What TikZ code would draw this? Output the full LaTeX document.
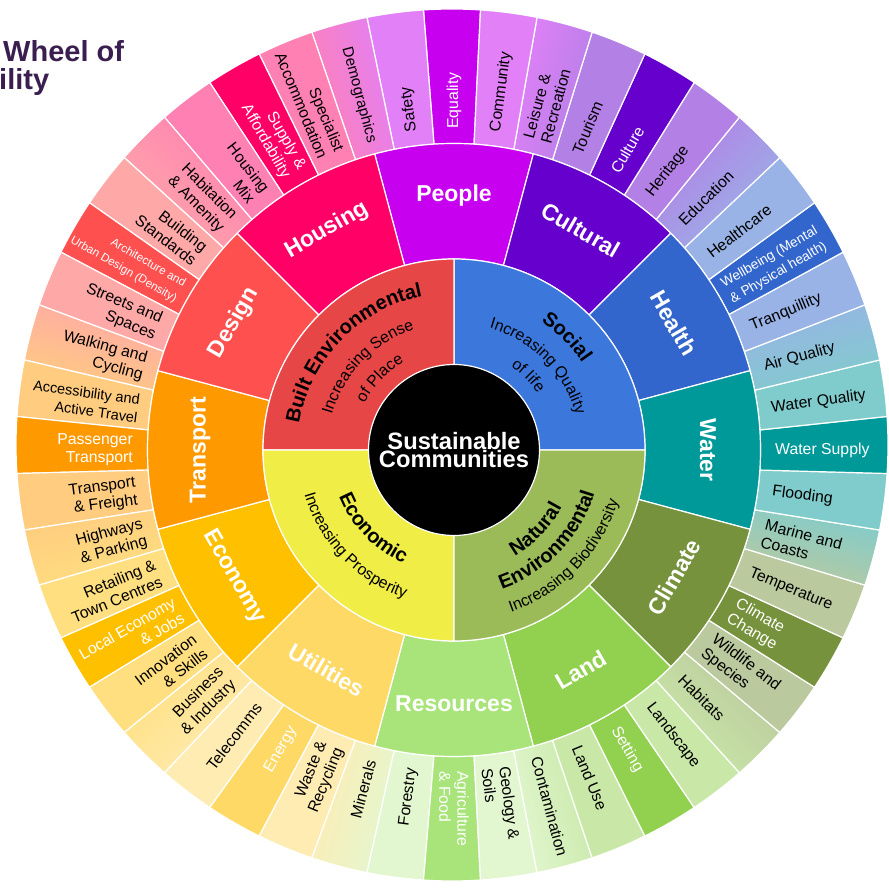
\documentclass[tikz,border=0pt]{standalone}
\usepackage{fontspec}
\setmainfont{Liberation Sans}
\usetikzlibrary{calc,decorations.text}

% inner quadrants
\definecolor{builtenv}{HTML}{E64646}
\definecolor{social}{HTML}{3C78DC}
\definecolor{economic}{HTML}{F0EE46}
\definecolor{natural}{HTML}{9BBB59}
% themes: dark (theme ring) and light (topic ring)
\definecolor{housingD}{HTML}{FF0066}   \definecolor{housingL}{HTML}{FF80B3}
\definecolor{peopleD}{HTML}{C800F0}    \definecolor{peopleL}{HTML}{E280F8}
\definecolor{culturalD}{HTML}{6600CC}  \definecolor{culturalL}{HTML}{B380E6}
\definecolor{healthD}{HTML}{3366CC}    \definecolor{healthL}{HTML}{99B3E6}
\definecolor{waterD}{HTML}{009999}     \definecolor{waterL}{HTML}{80CCCC}
\definecolor{climateD}{HTML}{76923C}   \definecolor{climateL}{HTML}{BBC99E}
\definecolor{landD}{HTML}{92D050}      \definecolor{landL}{HTML}{C9E8A8}
\definecolor{resourcesD}{HTML}{A9E47A} \definecolor{resourcesL}{HTML}{E2F7D0}
\definecolor{utilitiesD}{HTML}{FFD966} \definecolor{utilitiesL}{HTML}{FFECB3}
\definecolor{economyD}{HTML}{FFC000}   \definecolor{economyL}{HTML}{FFDF80}
\definecolor{transportD}{HTML}{FF9900} \definecolor{transportL}{HTML}{FFCC80}
\definecolor{designD}{HTML}{FF5050}    \definecolor{designL}{HTML}{FFA8A8}
\definecolor{titlepurple}{HTML}{3B1E50}

\tikzset{
  seg/.style={draw=white, line width=1.2pt, line join=round},
  catlabel/.style={text=white, font=\fontsize{23}{26}\selectfont\bfseries, inner sep=0pt},
  outlbl/.style={inner sep=0pt, anchor=west, align=left},
  inlbl/.style={inner sep=0pt, anchor=east, align=right},
  titletext/.style={anchor=base west, inner sep=0pt, text=titlepurple,
    font=\fontsize{29}{30}\selectfont\bfseries},
}

% topics: index / colour on the anticlockwise side / colour on the clockwise side /
%         label / label colour / font size / label start radius
\def\topics{
  0/peopleD/peopleD/Equality/white/15.8/321,
  1/peopleL/peopleL/Safety/black/15.8/321,
  2/housingL/peopleL/Demographics/black/15.2/318,
  3/housingL/housingL/{Specialist\\Accommodation}/black/15.8/320,
  4/housingD/housingD/{Supply \&\\Affordability}/white/15.8/320,
  5/housingL/housingL/{Housing\\Mix}/black/15.8/320,
  6/designL/housingL/{Habitation\\\& Amenity}/black/15.8/320,
  7/designL/designL/{Building\\Standards}/black/15.8/320,
  8/designD/designD/{Architecture and\\Urban Design (Density)}/white/11.6/316,
  9/designL/designL/{Streets and\\Spaces}/black/15.8/320,
  10/transportL/designL/{Walking and\\Cycling}/black/15.8/320,
  11/transportL/transportL/{Accessibility and\\Active Travel}/black/14.5/318,
  12/transportD/transportD/{Passenger\\Transport}/white/15.8/321,
  13/transportL/transportL/{Transport\\\& Freight}/black/15.8/320,
  14/economyL/transportL/{Highways\\\& Parking}/black/15.8/320,
  15/economyL/economyL/{Retailing \&\\Town Centres}/black/15.8/320,
  16/economyD/economyD/{Local Economy\\\& Jobs}/white/15.8/318,
  17/economyL/economyL/{Innovation\\\& Skills}/black/15.8/320,
  18/utilitiesL/economyL/{Business\\\& Industry}/black/15.8/320,
  19/utilitiesL/utilitiesL/Telecomms/black/15.8/321,
  20/utilitiesD/utilitiesD/Energy/white/15.8/321,
  21/utilitiesL/utilitiesL/{Waste \&\\Recycling}/black/15.8/320,
  22/resourcesL/utilitiesL/Minerals/black/15.8/321,
  23/resourcesL/resourcesL/Forestry/black/15.8/321,
  24/resourcesD/resourcesD/{Agriculture\\\& Food}/white/15.8/321,
  25/resourcesL/resourcesL/{Geology \&\\Soils}/black/15.8/320,
  26/landL/resourcesL/Contamination/black/15.8/318,
  27/landL/landL/Land Use/black/15.8/321,
  28/landD/landD/Setting/white/15.8/321,
  29/landL/landL/Landscape/black/15.8/321,
  30/climateL/landL/Habitats/black/15.8/321,
  31/climateL/climateL/{Wildlife and\\Species}/black/15.8/320,
  32/climateD/climateD/{Climate\\Change}/white/15.8/321,
  33/climateL/climateL/Temperature/black/15.8/320,
  34/waterL/climateL/{Marine and\\Coasts}/black/15.8/320,
  35/waterL/waterL/Flooding/black/15.8/321,
  36/waterD/waterD/Water Supply/white/15.8/321,
  37/waterL/waterL/Water Quality/black/15.8/320,
  38/healthL/waterL/Air Quality/black/15.8/321,
  39/healthL/healthL/Tranquillity/black/15.8/321,
  40/healthD/healthD/{Wellbeing (Mental\\\& Physical health)}/white/13.6/315,
  41/healthL/healthL/Healthcare/black/15.8/321,
  42/culturalL/healthL/Education/black/15.8/321,
  43/culturalL/culturalL/Heritage/black/15.8/321,
  44/culturalD/culturalD/Culture/white/15.8/321,
  45/culturalL/culturalL/Tourism/black/15.8/321,
  46/peopleL/culturalL/{Leisure \&\\Recreation}/black/15.8/320,
  47/peopleL/peopleL/Community/black/15.8/321%
}

\begin{document}
\begin{tikzpicture}[x=1pt,y=1pt]
\useasboundingbox (0,0) rectangle (888,888);
\clip (0,0) rectangle (888,888);
\coordinate (C) at (454,438);   % centre of the wheel
\coordinate (C2) at (452,443);  % centre of the outer rim

% ---------- topic ring (48 topics, 7.5 degrees each) ----------
\foreach \k/\ca/\cb/\txt/\tc/\fsz/\rs in \topics {
  \pgfmathsetmacro{\ph}{90+7.5*\k}
  \pgfmathsetmacro{\pa}{\ph-3.75}
  \pgfmathsetmacro{\pb}{\ph+3.75}
  \draw[seg, top color=\ca, bottom color=\cb, shading angle=\ph]
    ($(C)+(\pa:306.5pt)$) arc[start angle=\pa, end angle=\pb, radius=306.5pt]
    -- ($(C2)+(\pb:436pt)$) arc[start angle=\pb, end angle=\pa, radius=436pt] -- cycle;
}
\foreach \k/\ca/\cb/\txt/\tc/\fsz/\rs in \topics {
  \pgfmathsetmacro{\ph}{90+7.5*\k}
  \ifnum\k<2
    \node[outlbl, text=\tc, rotate=\ph, font=\fontsize{\fsz}{18}\selectfont] (t\k) at ($(C)+(\ph:\rs pt)$) {\txt};
  \else\ifnum\k<24
    \node[inlbl, text=\tc, rotate=\ph-180, font=\fontsize{\fsz}{18}\selectfont] (t\k) at ($(C)+(\ph:\rs pt)$) {\txt};
  \else
    \node[outlbl, text=\tc, rotate=\ph, font=\fontsize{\fsz}{18}\selectfont] (t\k) at ($(C)+(\ph:\rs pt)$) {\txt};
  \fi\fi
}

% ---------- theme ring (12 themes, 30 degrees each) ----------
\foreach \ang/\col/\txt in {90/peopleD/People, 60/culturalD/Cultural, 30/healthD/Health,
  0/waterD/Water, -30/climateD/Climate, -60/landD/Land, -90/resourcesD/Resources,
  -120/utilitiesD/Utilities, -150/economyD/Economy, 180/transportD/Transport,
  150/designD/Design, 120/housingD/Housing}{
  \pgfmathsetmacro{\pa}{\ang-15}
  \pgfmathsetmacro{\pb}{\ang+15}
  \draw[seg, fill=\col]
    ($(C)+(\pa:191pt)$) arc[start angle=\pa, end angle=\pb, radius=191pt]
    -- ($(C)+(\pb:306.5pt)$) arc[start angle=\pb, end angle=\pa, radius=306.5pt] -- cycle;
  \ifnum\ang<0
    \node[catlabel, rotate=\ang+90] (th\txt) at ($(C)+(\ang:254pt)$) {\txt};
  \else
    \node[catlabel, rotate=\ang-90] (th\txt) at ($(C)+(\ang:254pt)$) {\txt};
  \fi
}

% ---------- four pillars ----------
\draw[seg, fill=social]   (C) -- ($(C)+(0:191pt)$)   arc[start angle=0,   end angle=90,  radius=191pt] -- cycle;
\draw[seg, fill=builtenv] (C) -- ($(C)+(90:191pt)$)  arc[start angle=90,  end angle=180, radius=191pt] -- cycle;
\draw[seg, fill=economic] (C) -- ($(C)+(180:191pt)$) arc[start angle=180, end angle=270, radius=191pt] -- cycle;
\draw[seg, fill=natural]  (C) -- ($(C)+(270:191pt)$) arc[start angle=270, end angle=360, radius=191pt] -- cycle;

% pillar titles and aims, set along arcs
\path[decorate, decoration={text along path, text align=center,
  text={|\fontsize{20}{24}\selectfont\bfseries|Built Environmental}}]
  ($(C)+(181:157pt)$) arc[start angle=181, end angle=91, radius=157pt];
\path[decorate, decoration={text along path, text align=center,
  text={|\fontsize{16}{19}\selectfont|Increasing Sense}}]
  ($(C)+(181:127pt)$) arc[start angle=181, end angle=91, radius=127pt];
\path[decorate, decoration={text along path, text align=center,
  text={|\fontsize{16}{19}\selectfont|of Place}}]
  ($(C)+(181:101pt)$) arc[start angle=181, end angle=91, radius=101pt];

\path[decorate, decoration={text along path, text align=center,
  text={|\fontsize{20}{24}\selectfont\bfseries|Social}}]
  ($(C)+(90:155pt)$) arc[start angle=90, end angle=0, radius=155pt];
\path[decorate, decoration={text along path, text align=center,
  text={|\fontsize{16}{19}\selectfont|Increasing Quality}}]
  ($(C)+(90:127pt)$) arc[start angle=90, end angle=0, radius=127pt];
\path[decorate, decoration={text along path, text align=center,
  text={|\fontsize{16}{19}\selectfont|of life}}]
  ($(C)+(90:101pt)$) arc[start angle=90, end angle=0, radius=101pt];

\path[decorate, decoration={text along path, text align=center,
  text={|\fontsize{20}{24}\selectfont\bfseries|Economic}}]
  ($(C)+(179:124pt)$) arc[start angle=179, end angle=269, radius=124pt];
\path[decorate, decoration={text along path, text align=center,
  text={|\fontsize{16}{19}\selectfont|Increasing Prosperity}}]
  ($(C)+(179:156pt)$) arc[start angle=179, end angle=269, radius=156pt];

\path[decorate, decoration={text along path, text align=center,
  text={|\fontsize{20}{24}\selectfont\bfseries|Natural}}]
  ($(C)+(271:122pt)$) arc[start angle=271, end angle=361, radius=122pt];
\path[decorate, decoration={text along path, text align=center,
  text={|\fontsize{20}{24}\selectfont\bfseries|Environmental}}]
  ($(C)+(271:147pt)$) arc[start angle=271, end angle=361, radius=147pt];
\path[decorate, decoration={text along path, text align=center,
  text={|\fontsize{16}{19}\selectfont|Increasing Biodiversity}}]
  ($(C)+(271:172pt)$) arc[start angle=271, end angle=361, radius=172pt];

% ---------- hub ----------
\node[circle, fill=black, draw=white, line width=1.2pt, minimum size=171pt, inner sep=0pt,
  text=white, align=center, font=\fontsize{23.7}{18}\selectfont\bfseries] (hub) at (C)
  {Sustainable\\Communities};

% ---------- heading ----------
\node[titletext] (head1) at (3,826.3) {Wheel of};
\node[titletext] (head2) at (-1,798) {ility};
\end{tikzpicture}
\end{document}
